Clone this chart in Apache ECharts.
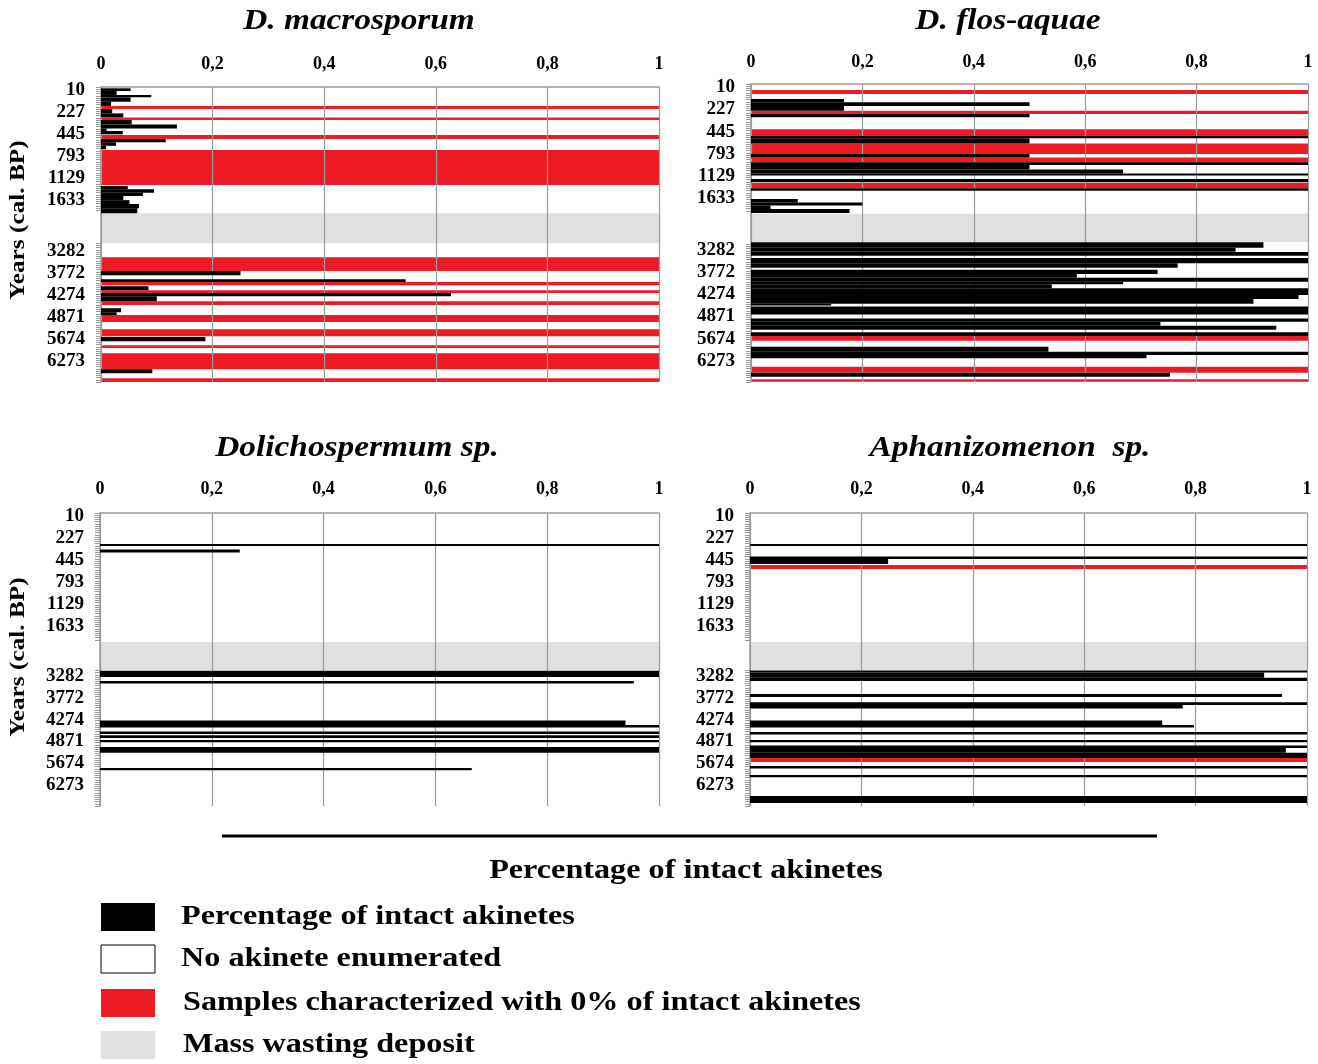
<!DOCTYPE html>
<html><head><meta charset="utf-8">
<script src="https://cdn.jsdelivr.net/npm/echarts/dist/echarts.min.js"></script>
<style>html,body{margin:0;padding:0;background:#fff}#c{width:1318px;height:1064px}</style>
</head><body><div id="c"></div>
<script>
// ---------- data ----------
const rowCount = 134; // sample rows on the depth axis
const yearLabels = ['10','227','445','793','1129','1633','3282','3772','4274','4871','5674','6273'];
const yearLabelRows = [1,11,21,31,41,51,74,84,94,104,114,124];
const xTicks = [0,0.2,0.4,0.6,0.8,1];
const titles = ['D. macrosporum','D. flos-aquae','Dolichospermum sp.','Aphanizomenon  sp.'];

// black bars: [rowStart, rowEnd, fraction of intact akinetes]
const macroBlack = [[0.6,1.8,0.053],[1.8,3.6,0.028],[3.6,4.7,0.09],[4.7,6.7,0.053],[6.7,8.6,0.018],
  [10,12,0.02],[12,13.8,0.04],[15,17,0.055],[17,18.8,0.136],[18.8,20,0.01],[20,21.5,0.039],
  [23.6,25.1,0.116],[25.1,26.7,0.027],[26.7,28.3,0.009],
  [45,46.5,0.048],[46.5,48,0.095],[48,49.5,0.075],[49.5,51.4,0.04],[51.4,53.2,0.051],[53.2,55.1,0.068],[55.1,57.4,0.065],
  [83.6,85.5,0.25],[87.3,88.6,0.546],[90.5,92.3,0.085],[93.6,95,0.627],[95,97.3,0.1],
  [100.5,102.3,0.036],[102.3,103.6,0.028],[113.6,115.5,0.187],[128.2,130,0.092]];
// red rows: samples with 0% intact akinetes [rowStart, rowEnd]
const macroRed = [[8.6,10],[13.8,15],[21.8,23.6],[28.6,44.5],[77.3,83.6],[88.6,90],[92.3,93.6],
  [97.3,99],[103.6,106.8],[110,113.2],[117.3,118.6],[120.9,128.2],[132.3,134]];
const macroBand = [57.4,71];

const flosBlack = [[6.7,8.2,0.167],[8.2,9.9,0.5],[9.9,12,0.167],[13.5,15,0.5],
  [23.4,24.4,1],[24.4,26.7,0.5],[31.5,33.1,0.5],[35.2,36.4,1],[36.4,38.4,0.5],[38.4,40.2,0.668],
  [40.2,41.2,1],[42.7,44.2,1],[46.9,48,1],
  [51.7,53.3,0.084],[53.3,54.6,0.2],[54.6,56.2,0.035],[56.2,58,0.177],
  [71.2,73.6,0.92],[73.6,75.4,0.87],[75.5,77.2,1],[78.2,80.6,1],[80.6,82.6,0.766],
  [83.5,85.4,0.73],[85.4,87.1,0.585],[87.1,88.9,1],[88.9,90.1,0.668],[90.1,91.9,0.54],
  [91.9,94.9,1],[94.9,96.7,0.983],[96.7,98.8,0.902],[98.8,99.6,0.144],[100.1,103.6,1],
  [105.4,106.9,1],[106.9,108.7,0.735],[108.7,110.5,0.943],[111.6,113.3,1],
  [118.1,120.4,0.534],[120.4,121.9,1],[121.9,123.3,0.71],[129.8,131.6,0.752]];
const flosRed = [[2.7,4.5],[12,13.5],[20.4,23.4],[26.7,31.5],[33.1,35.2],[44.5,46.9],
  [113.3,115.4],[127.1,129.8],[132.8,133.9]];
const flosBand = [58.3,71.1];

const dolichoBlack = [[14.2,15.1,1],[16.7,18.1,0.25],[72.2,75,1],[76.8,78,0.955],
  [94.9,96.9,0.94],[96.9,98.1,1],[99.9,101.1,1],[101.7,102.9,1],[103.8,104.9,1],
  [107,109.7,1],[116.6,117.7,0.665]];
const dolichoRed = [];
const dolichoBand = [59,71.8];

const aphaBlack = [[14.2,15.1,1],[19.9,21,1],[21,23.3,0.248],[72,72.9,1],[72.9,75.4,0.923],
  [75.4,76.8,1],[82.8,84.1,0.955],[86.6,87.8,1],[87.8,89.4,0.777],[94.9,96.9,0.74],
  [96.9,98.1,0.797],[100.1,101.3,1],[103.8,104.9,1],[106.3,107.5,1],[107.5,109.7,0.962],
  [109.7,112,1],[115.7,116.8,1],[119.8,120.9,1],[129.4,132.6,1]];
const aphaRed = [[23.8,25.6],[112,113.9]];
const aphaBand = [59,71.8];

const legendLabels = ['Percentage of intact akinetes','No akinete enumerated',
  'Samples characterized with 0% of intact akinetes','Mass wasting deposit'];
const xAxisTitle = 'Percentage of intact akinetes';
const yAxisTitle = 'Years (cal. BP)';

// ---------- layout ----------
const RED = '#ed1c24', GREY = '#e0e0e0', GRID = '#9a9a9a';
const SERIF = '"Liberation Serif","Times New Roman",serif';
const WIDE = 1.15; // horizontal stretch of the reference lettering
const panels = [
  {grid:{left:101,top:87,width:558,height:295}, black:macroBlack, red:macroRed, band:macroBand, tx:359, ty:22, lm:14},
  {grid:{left:751,top:84,width:557,height:298}, black:flosBlack, red:flosRed, band:flosBand, tx:1008, ty:22, lm:13},
  {grid:{left:100,top:513,width:559,height:293}, black:dolichoBlack, red:dolichoRed, band:dolichoBand, tx:357, ty:449, lm:15},
  {grid:{left:750,top:513,width:557,height:293}, black:aphaBlack, red:aphaRed, band:aphaBand, tx:1010, ty:449, lm:15}
];

const rowNames = [];
for (let i = 0; i < rowCount; i++) rowNames.push('');
yearLabelRows.forEach((r, i) => { rowNames[r] = yearLabels[i]; });

function rectRenderer(color) {
  return function (params, api) {
    const r0 = api.value(0), r1 = api.value(1), v = api.value(2);
    const a = api.coord([0, r0]), b = api.coord([v, r1]);
    return {type:'rect', shape:{x:a[0], y:Math.min(a[1],b[1]), width:b[0]-a[0], height:Math.abs(b[1]-a[1])},
      style:{fill:color}};
  };
}

const grids = [], xAxes = [], yAxes = [], series = [];
panels.forEach((p, k) => {
  grids.push(p.grid);
  xAxes.push({type:'value', gridIndex:k, min:0, max:1, interval:0.2, position:'top', z:2,
    axisLine:{show:true, lineStyle:{color:GRID, width:1.5}}, axisTick:{show:false},
    splitLine:{show:true, lineStyle:{color:GRID, width:1.2}},
    axisLabel:{margin:p.lm, color:'#000', fontFamily:SERIF, fontWeight:'bold', fontSize:18,
      formatter:v => (v === 0 || v === 1) ? String(v) : v.toFixed(1).replace('.', ',')}});
  const b0 = Math.floor(p.band[0]), b1 = Math.ceil(p.band[1]);
  yAxes.push({type:'category', gridIndex:k, data:rowNames, inverse:true, z:2,
    axisLine:{show:true, lineStyle:{color:GRID, width:1.5}},
    axisTick:{show:true, length:5, lineStyle:{color:GRID}, interval:(i) => !(i >= b0 && i < b1)},
    axisLabel:{interval:0, margin:16, color:'#000', fontFamily:SERIF, fontWeight:'bold', fontSize:19},
    splitLine:{show:false}});
  yAxes.push({type:'value', gridIndex:k, min:0, max:rowCount, inverse:true, show:false});
  series.push({type:'custom', xAxisIndex:k, yAxisIndex:2*k+1, z:1, silent:true,
    renderItem:rectRenderer(GREY), data:[[p.band[0], p.band[1], 1]]});
  series.push({type:'custom', xAxisIndex:k, yAxisIndex:2*k+1, z:1, silent:true,
    renderItem:rectRenderer(RED), data:p.red.map(r => [r[0], r[1], 1])});
  series.push({type:'custom', xAxisIndex:k, yAxisIndex:2*k+1, z:3, silent:true,
    renderItem:rectRenderer('#000'), data:p.black});
});

function txt(text, x, y, font, align, rot) {
  return {type:'text', x:x, y:y, z:10, rotation:rot || 0, scaleX:WIDE,
    style:{text:text, font:font, fill:'#000', align:align, verticalAlign:'middle',
      textAlign:align, textVerticalAlign:'middle'}};
}
const graphics = [];
panels.forEach((p, k) => {
  graphics.push(txt(titles[k], p.tx, p.ty, 'italic bold 29px ' + SERIF, 'center'));
});
graphics.push(txt(yAxisTitle, 18, 220, 'bold 22px ' + SERIF, 'center', Math.PI/2));
graphics.push(txt(yAxisTitle, 18, 657, 'bold 22px ' + SERIF, 'center', Math.PI/2));
graphics.push({type:'line', shape:{x1:222, y1:836, x2:1157, y2:836}, style:{stroke:'#000', lineWidth:3}});
graphics.push(txt(xAxisTitle, 686, 871, 'bold 28px ' + SERIF, 'center'));
const boxFills = ['#000', '#fff', RED, GREY];
const boxY = [903, 945, 989, 1031];
const textX = [181, 181, 183, 183];
boxFills.forEach((c, i) => {
  graphics.push({type:'rect', shape:{x:101, y:boxY[i], width:54, height:28},
    style:{fill:c, stroke: i === 1 ? '#000' : c, lineWidth: i === 1 ? 1 : 0}});
  graphics.push(txt(legendLabels[i], textX[i], boxY[i] + 14, 'bold 28px ' + SERIF, 'left'));
});

const chart = echarts.init(document.getElementById('c'), null, {renderer:'canvas'});
chart.setOption({animation:false, backgroundColor:'#fff', grid:grids, xAxis:xAxes, yAxis:yAxes,
  series:series, graphic:graphics});
</script></body></html>
